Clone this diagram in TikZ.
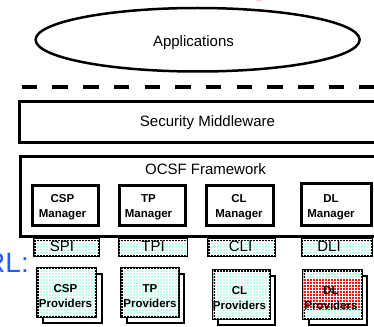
\documentclass[tikz,border=0pt]{standalone}
\usepackage{fontspec}
\setmainfont{Liberation Sans}
\usetikzlibrary{patterns,shapes.geometric}

\definecolor{mint}{RGB}{196,252,234}
\definecolor{linkblue}{RGB}{40,90,255}
\definecolor{blush}{RGB}{255,205,210}
\definecolor{hotred}{RGB}{240,20,20}

\begin{document}
\begin{tikzpicture}[x=1pt,y=-1pt,
  txt/.style={font=\fontsize{15}{18}\selectfont, inner sep=0pt, anchor=base},
  boldtxt/.style={font=\bfseries\fontsize{11.5}{15}\selectfont, inner sep=0pt, align=center},
  frame/.style={draw, line width=3pt, inner sep=0pt},
  mgrbox/.style={draw, line width=3pt, fill=white, inner sep=0pt},
  ifbox/.style={draw, line width=2.5pt, fill=mint,
    postaction={pattern=grid, pattern color=white}, inner sep=0pt},
  provfront/.style={draw, line width=2.5pt, fill=mint,
    postaction={pattern=grid, pattern color=white}, inner sep=0pt},
  provback/.style={draw, line width=2pt, fill=white, inner sep=0pt},
  sepline/.style={line width=3.5pt, dash pattern=on 15.5pt off 15.2pt},
]
\useasboundingbox (0,0) rectangle (374,326);
\clip (0,0) rectangle (374,326);

% stray pink mark at the top edge
\fill[blush] (259,-1.5) ellipse [x radius=4.5pt, y radius=3pt];

% applications layer
\node[ellipse, draw, line width=2.5pt, minimum width=324pt, minimum height=63.5pt, inner sep=0pt]
  (apps) at (197.6,39.75) {};
\node[txt] (appsText) at (193.5,46.5) {Applications};

% dashed boundary
\coordinate (dashL) at (21.7,87);
\coordinate (dashR) at (390,87);
\draw[sepline] (dashL) -- (dashR);

% security middleware
\node[frame, minimum width=380.5pt, minimum height=40.3pt] (mw) at (209.75,121.85) {};
\node[txt] (mwText) at (207.5,126.5) {Security Middleware};

% framework
\node[frame, minimum width=380pt, minimum height=80.2pt] (ocsf) at (210,196.6) {};
\node[txt] (ocsfText) at (205.5,174.3) {OCSF Framework};

% managers
\node[mgrbox, minimum width=66pt, minimum height=40pt] (cspM) at (65.5,205.5) {};
\node[mgrbox, minimum width=66pt, minimum height=40pt] (tpM)  at (152.5,205.5) {};
\node[mgrbox, minimum width=67pt, minimum height=40pt] (clM)  at (240,205.5) {};
\node[mgrbox, minimum width=70pt, minimum height=42pt] (dlM)  at (336.5,204.5) {};
\node[boldtxt] (cspMText) at (62.5,207) {CSP\\Manager};
\node[boldtxt] (tpMText)  at (148.5,207) {TP\\Manager};
\node[boldtxt] (clMText)  at (239,207) {CL\\Manager};
\node[boldtxt] (dlMText)  at (331,207) {DL\\Manager};

% interfaces
\node[ifbox, minimum width=64.5pt, minimum height=16.5pt] (spi) at (66.5,247.5) {};
\node[ifbox, minimum width=67.5pt, minimum height=16.5pt] (tpi) at (153,247.5) {};
\node[ifbox, minimum width=66.5pt, minimum height=16.5pt] (cli) at (241.5,247.5) {};
\node[ifbox, minimum width=69.5pt, minimum height=16.5pt] (dli) at (337,247.5) {};
\node[txt] (spiText) at (62,251.7) {SPI};
\node[txt] (tpiText) at (153,251.7) {TPI};
\node[txt] (cliText) at (240.5,251.7) {CLI};
\node[txt] (dliText) at (329,251.7) {DLI};

% providers (stacked cards)
\node[provback, minimum width=58.5pt, minimum height=48.5pt] (cspPb) at (72.5,298.5) {};
\node[provfront, minimum width=58.5pt, minimum height=48.5pt] (cspP) at (66.5,292.5) {};
\node[provback, minimum width=57pt, minimum height=48.5pt] (tpPb) at (155.25,298.5) {};
\node[provfront, minimum width=57pt, minimum height=48.5pt] (tpP) at (149.75,292.5) {};
\node[provback, minimum width=56.5pt, minimum height=48.5pt] (clPb) at (246.5,300.5) {};
\node[provfront, minimum width=56.5pt, minimum height=48.5pt] (clP) at (241.5,294.5) {};
\node[provback, minimum width=58.5pt, minimum height=48.5pt] (dlPb) at (338,300.5) {};
\node[provfront, minimum width=58.5pt, minimum height=48.5pt] (dlP) at (332.5,294.5) {};
% highlighted area on the DL card
\node[fill=hotred, postaction={pattern=grid, pattern color=white}, inner sep=0pt,
  minimum width=56pt, minimum height=32pt] (dlMark) at (332,294) {};

\node[boldtxt] (cspPText) at (65.5,296.3) {CSP\\Providers};
\node[boldtxt] (tpPText)  at (150,296.3) {TP\\Providers};
\node[boldtxt] (clPText)  at (239.5,298.3) {CL\\Providers};
\node[boldtxt] (dlPText)  at (331,298.3) {DL\\Providers};

% link label at the left edge
\node[font=\fontsize{28}{32}\selectfont, text=linkblue, inner sep=0pt, anchor=base east]
  (urlText) at (29,272) {RL:};
\end{tikzpicture}
\end{document}
